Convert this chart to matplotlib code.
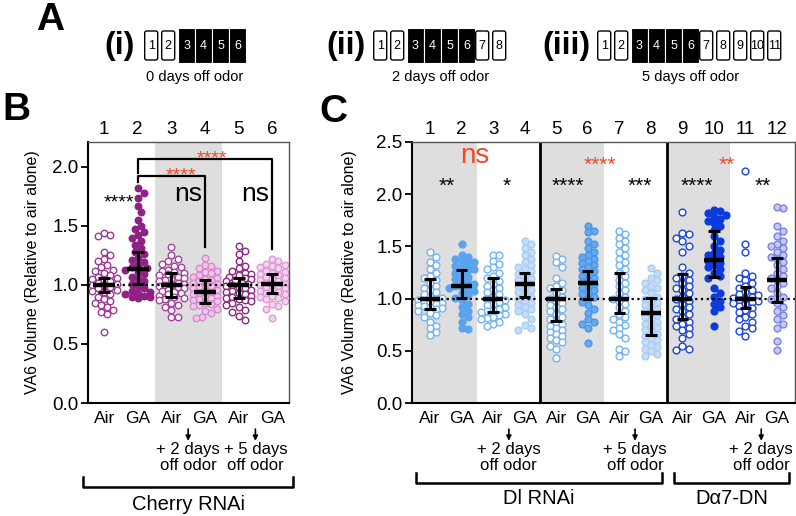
import matplotlib.pyplot as plt
import numpy as np
from matplotlib.patches import Rectangle, FancyBboxPatch
from matplotlib.transforms import blended_transform_factory

plt.rcParams['font.family'] = ['Liberation Sans', 'DejaVu Sans']

# ---- panel A schematic ----
scheme_labels = ["(i)", "(ii)", "(iii)"]
scheme_days = [6, 8, 11]
odor_days = [3, 4, 5, 6]
scheme_captions = ["0 days off odor", "2 days off odor", "5 days off odor"]

# ---- panel B (Cherry RNAi) ----
B_labels = ["Air", "GA", "Air", "GA", "Air", "GA"]
B1 = [1.44, 1.42, 1.41, 1.28, 1.25, 1.22, 1.20, 1.17, 1.15, 1.13, 1.12, 1.10, 1.08, 1.07, 1.06, 1.05, 1.04, 1.03, 1.02,
      1.01, 1.00, 0.99, 0.98, 0.97, 0.96, 0.95, 0.94, 0.92, 0.90, 0.88, 0.86, 0.85, 0.83, 0.81, 0.79, 0.77, 0.75, 0.60]
B2 = [1.82, 1.78, 1.74, 1.67, 1.62, 1.55, 1.50, 1.47, 1.45, 1.42, 1.40, 1.37, 1.34, 1.31, 1.28, 1.26, 1.23, 1.21, 1.19,
      1.17, 1.15, 1.14, 1.13, 1.11, 1.09, 1.07, 1.05, 1.03, 1.01, 0.99, 0.97, 0.95, 0.94, 0.93, 0.92, 0.91, 0.90, 0.90, 0.89]
B3 = [1.32, 1.25, 1.22, 1.20, 1.18, 1.16, 1.15, 1.13, 1.12, 1.11, 1.10, 1.09, 1.08, 1.07, 1.06, 1.05, 1.04, 1.03, 1.02,
      1.01, 1.00, 1.00, 0.99, 0.98, 0.97, 0.96, 0.95, 0.94, 0.93, 0.92, 0.91, 0.90, 0.89, 0.88, 0.87, 0.85, 0.83, 0.81,
      0.79, 0.73, 0.73]
B4 = [1.23, 1.17, 1.16, 1.14, 1.12, 1.11, 1.10, 1.08, 1.07, 1.06, 1.05, 1.04, 1.03, 1.02, 1.01, 1.00, 0.99, 0.98, 0.97,
      0.96, 0.95, 0.94, 0.93, 0.92, 0.91, 0.90, 0.89, 0.88, 0.87, 0.86, 0.85, 0.84, 0.83, 0.82, 0.80, 0.78, 0.76, 0.73, 0.72]
B5 = [1.33, 1.29, 1.26, 1.20, 1.16, 1.14, 1.12, 1.10, 1.09, 1.08, 1.07, 1.06, 1.05, 1.04, 1.03, 1.02, 1.01, 1.00, 0.99,
      0.98, 0.97, 0.96, 0.95, 0.94, 0.93, 0.92, 0.91, 0.90, 0.89, 0.88, 0.87, 0.86, 0.85, 0.83, 0.81, 0.79, 0.77, 0.74, 0.70]
B6 = [1.22, 1.20, 1.18, 1.17, 1.16, 1.15, 1.14, 1.12, 1.11, 1.10, 1.09, 1.08, 1.07, 1.06, 1.05, 1.04, 1.03, 1.02, 1.01,
      1.00, 1.00, 0.99, 0.98, 0.97, 0.96, 0.95, 0.94, 0.93, 0.92, 0.91, 0.90, 0.89, 0.88, 0.86, 0.84, 0.82, 0.80, 0.72]
B_groups = [B1, B2, B3, B4, B5, B6]
B_mid = [1.00, 1.135, 1.00, 0.94, 1.00, 1.01]
B_lo = [0.94, 1.01, 0.90, 0.85, 0.89, 0.935]
B_hi = [1.06, 1.28, 1.10, 1.04, 1.06, 1.09]
B_face = ["white", "#8e2183", "white", "#f2c6ea", "white", "#f6d4f0"]
B_edge = ["#9c3a93", "#8e2183", "#a6449e", "#d48ccb", "#8a2a80", "#e09ad6"]

# ---- panel C (Dl RNAi / Da7-DN) ----
C_labels = ["Air", "GA"] * 6
C1 = [1.45, 1.40, 1.35, 1.32, 1.28, 1.25, 1.22, 1.20, 1.18, 1.15, 1.12, 1.10, 1.08, 1.06, 1.04, 1.02, 1.01, 1.00, 0.99,
      0.98, 0.97, 0.96, 0.95, 0.94, 0.93, 0.92, 0.91, 0.90, 0.88, 0.86, 0.84, 0.82, 0.78, 0.74, 0.72, 0.68, 0.65]
C2 = [1.52, 1.42, 1.40, 1.38, 1.36, 1.35, 1.33, 1.31, 1.30, 1.28, 1.27, 1.25, 1.23, 1.21, 1.19, 1.17, 1.15, 1.14, 1.12,
      1.11, 1.10, 1.09, 1.07, 1.05, 1.03, 1.01, 0.99, 0.95, 0.92, 0.88, 0.85, 0.82, 0.78, 0.72, 0.71]
C3 = [1.42, 1.42, 1.36, 1.33, 1.30, 1.28, 1.25, 1.22, 1.20, 1.17, 1.14, 1.12, 1.10, 1.08, 1.06, 1.04, 1.02, 1.00, 0.99,
      0.97, 0.95, 0.94, 0.92, 0.90, 0.89, 0.88, 0.87, 0.85, 0.84, 0.82, 0.81, 0.80, 0.78, 0.76, 0.74]
C4 = [1.55, 1.52, 1.48, 1.45, 1.42, 1.38, 1.35, 1.32, 1.30, 1.28, 1.26, 1.24, 1.22, 1.20, 1.18, 1.16, 1.14, 1.12, 1.10,
      1.08, 1.06, 1.04, 1.02, 1.00, 0.98, 0.96, 0.94, 0.92, 0.90, 0.88, 0.85, 0.80, 0.75, 0.72, 0.70]
C5 = [1.41, 1.38, 1.35, 1.30, 1.20, 1.15, 1.12, 1.10, 1.08, 1.05, 1.02, 1.00, 0.98, 0.96, 0.94, 0.92, 0.90, 0.88, 0.85,
      0.82, 0.80, 0.78, 0.76, 0.74, 0.72, 0.70, 0.68, 0.66, 0.64, 0.62, 0.60, 0.58, 0.55, 0.52, 0.43]
C6 = [1.70, 1.65, 1.64, 1.55, 1.52, 1.48, 1.45, 1.42, 1.40, 1.38, 1.36, 1.34, 1.32, 1.30, 1.28, 1.26, 1.24, 1.22, 1.20,
      1.18, 1.16, 1.14, 1.12, 1.10, 1.08, 1.06, 1.04, 1.02, 1.00, 0.97, 0.94, 0.90, 0.86, 0.80, 0.78, 0.76, 0.72, 0.57]
C7 = [1.65, 1.62, 1.58, 1.55, 1.52, 1.48, 1.45, 1.42, 1.38, 1.35, 1.32, 1.28, 1.25, 1.22, 1.18, 1.15, 1.12, 1.08, 1.05,
      1.02, 1.00, 0.98, 0.95, 0.92, 0.88, 0.85, 0.82, 0.80, 0.78, 0.75, 0.72, 0.70, 0.66, 0.62, 0.52, 0.50, 0.45]
C8 = [1.29, 1.25, 1.20, 1.18, 1.15, 1.12, 1.10, 1.08, 1.05, 1.02, 1.00, 0.98, 0.96, 0.94, 0.92, 0.90, 0.88, 0.86, 0.84,
      0.82, 0.80, 0.78, 0.76, 0.74, 0.72, 0.70, 0.68, 0.66, 0.64, 0.62, 0.60, 0.58, 0.56, 0.54, 0.52, 0.50, 0.47, 0.45]
C9 = [1.83, 1.63, 1.62, 1.58, 1.55, 1.50, 1.45, 1.30, 1.25, 1.22, 1.20, 1.18, 1.15, 1.12, 1.10, 1.08, 1.05, 1.02, 1.00,
      0.98, 0.95, 0.92, 0.90, 0.88, 0.85, 0.82, 0.80, 0.78, 0.76, 0.74, 0.72, 0.70, 0.66, 0.62, 0.55, 0.52, 0.51]
C10 = [1.85, 1.84, 1.82, 1.80, 1.78, 1.76, 1.74, 1.72, 1.70, 1.66, 1.60, 1.55, 1.50, 1.47, 1.44, 1.42, 1.40, 1.38, 1.36,
       1.34, 1.32, 1.30, 1.28, 1.25, 1.22, 1.20, 1.10, 1.05, 1.02, 0.98, 0.95, 0.92, 0.88, 0.74]
C11 = [2.22, 1.52, 1.45, 1.25, 1.22, 1.20, 1.18, 1.15, 1.12, 1.10, 1.08, 1.06, 1.04, 1.03, 1.02, 1.01, 1.00, 0.99, 0.98,
       0.97, 0.96, 0.95, 0.93, 0.91, 0.89, 0.87, 0.85, 0.82, 0.80, 0.78, 0.74, 0.72, 0.69, 0.64]
C12 = [1.88, 1.87, 1.70, 1.65, 1.60, 1.55, 1.52, 1.50, 1.48, 1.45, 1.42, 1.40, 1.38, 1.35, 1.32, 1.28, 1.25, 1.22, 1.20,
       1.18, 1.15, 1.12, 1.10, 1.05, 1.02, 1.00, 0.96, 0.92, 0.88, 0.84, 0.80, 0.76, 0.72, 0.59, 0.51]
C_groups = [C1, C2, C3, C4, C5, C6, C7, C8, C9, C10, C11, C12]
C_mid = [1.00, 1.12, 1.00, 1.14, 1.00, 1.15, 1.00, 0.86, 1.00, 1.37, 1.00, 1.18]
C_lo = [0.90, 1.01, 0.87, 1.02, 0.79, 1.00, 0.86, 0.65, 0.80, 1.21, 0.91, 0.97]
C_hi = [1.19, 1.27, 1.20, 1.25, 1.09, 1.26, 1.25, 1.01, 1.24, 1.65, 1.11, 1.39]
lb, mb, db = "#74b4f2", "#5ba3ee", "#1d45d6"
C_face = ["white", mb, "white", "#c5ddf8", "white", "#64aaf0", "white", "#c5ddf8", "white", "#0b3bdc", "white", "#c5c9f4"]
C_edge = [lb, mb, lb, "#a9cdf3", lb, "#4d95e6", lb, "#a9cdf3", db, "#0b3bdc", db, "#7a82e2"]

RED = "#f04a24"
GRAY = "#dedede"

W, H = 796, 516
fig = plt.figure(figsize=(W / 100, H / 100), dpi=100)


def frac(l, t, r, b):
    return [l / W, 1 - b / H, (r - l) / W, (b - t) / H]


def swarm(ax, x, vals, d_px=6.2, max_px=15):
    # simple beeswarm layout in pixel space
    vals = np.asarray(vals, float)
    pts = ax.transData.transform(np.column_stack([np.full(len(vals), x), vals]))
    ys = pts[:, 1]
    xc = pts[0, 0]
    steps = [0.0] + [s * k * d_px * 0.5 for k in range(1, 30) for s in (1, -1)]
    steps = [c for c in steps if abs(c) <= max_px]
    placed = []
    xo = np.zeros(len(vals))
    for i in np.argsort(-vals):
        chosen = None
        for c in steps:
            if all((c - px) ** 2 + (ys[i] - py) ** 2 >= d_px ** 2 for px, py in placed):
                chosen = c
                break
        if chosen is None:
            chosen = max(steps, key=lambda c: min((c - px) ** 2 + (ys[i] - py) ** 2 for px, py in placed))
        placed.append((chosen, ys[i]))
        xo[i] = chosen
    inv = ax.transData.inverted()
    return inv.transform(np.column_stack([xc + xo, ys]))[:, 0]


def dot_panel(ax, groups, mid, lo, hi, face, edge, labels, xlim, ylim, yticks, spans, ms):
    n = len(groups)
    ax.set_xlim(*xlim)
    ax.set_ylim(*ylim)
    for a, b in spans:
        ax.axvspan(a, b, color=GRAY, lw=0, zorder=0)
    for i, g in enumerate(groups):
        xs = swarm(ax, i, g)
        ax.scatter(xs, g, s=ms, facecolor=face[i], edgecolor=edge[i], linewidths=1.0, zorder=2)
    ax.axhline(1.0, color="k", ls=(0, (1, 1.6)), lw=1.6, zorder=3)
    x = np.arange(n)
    ax.vlines(x, lo, hi, color="k", lw=2.2, zorder=4)
    ax.hlines(lo, x - 0.18, x + 0.18, color="k", lw=2.2, zorder=4)
    ax.hlines(hi, x - 0.18, x + 0.18, color="k", lw=2.2, zorder=4)
    ax.hlines(mid, x - 0.32, x + 0.32, color="k", lw=3.2, zorder=4)
    ax.set_yticks(yticks)
    ax.set_yticklabels([f"{t:.1f}" for t in yticks])
    ax.set_xticks(x)
    ax.set_xticklabels(labels)
    ax.tick_params(axis="x", length=0, labelsize=12.5, pad=6)
    ax.tick_params(axis="y", length=5, width=1.3, labelsize=13.5, pad=2)
    for s in ("left", "bottom"):
        ax.spines[s].set_linewidth(1.5)
    for s in ("top", "right"):
        ax.spines[s].set_linewidth(1.0)
        ax.spines[s].set_color("#555555")
    sec = ax.secondary_xaxis("top")
    sec.set_xticks(x)
    sec.set_xticklabels([str(i + 1) for i in x])
    sec.tick_params(length=0, labelsize=13.5, pad=3)
    sec.spines["top"].set_visible(False)
    ax.set_ylabel("VA6 Volume (Relative to air alone)", fontsize=11.5)


def stars(ax, txt, x, y, color="k", fs=14):
    ax.annotate(txt, xy=(x, y), xytext=(0, -0.56 * fs), textcoords="offset points",
                ha="center", va="baseline", fontsize=fs, color=color, zorder=5)


def notes(ax, xs_, texts):
    tr = blended_transform_factory(ax.transData, ax.transAxes)
    for xp, t in zip(xs_, texts):
        ax.annotate("", xy=(xp, -0.145), xytext=(xp, -0.10), xycoords=tr, textcoords=tr,
                    arrowprops=dict(arrowstyle="-|>", color="k", lw=1.2, mutation_scale=7,
                                    shrinkA=0, shrinkB=0), annotation_clip=False)
        ax.text(xp, -0.21, t, transform=tr, ha="center", va="center", fontsize=12, linespacing=1.1)


def group_bracket(ax, x0, x1, y, name, ty):
    tr = blended_transform_factory(ax.transData, ax.transAxes)
    ax.plot([x0, x0, x1, x1], [y + 0.04, y, y, y + 0.04], color="k", lw=1.8, transform=tr, clip_on=False)
    ax.text((x0 + x1) / 2, ty, name, transform=tr, ha="center", va="center", fontsize=14.5)


# ---- panel A ----
axA = fig.add_axes([0, 1 - 95 / H, 1, 95 / H])
axA.set_xlim(0, W)
axA.set_ylim(95, 0)
axA.axis("off")
pitch = 17
label_x = [120, 346, 566]
box_x0 = [144, 373, 597]
for lab, nd, lx, x0, cap in zip(scheme_labels, scheme_days, label_x, box_x0, scheme_captions):
    axA.text(lx, 46, lab, ha="center", va="center", fontsize=23, fontweight="bold")
    for d in range(1, nd + 1):
        left = x0 + (d - 1) * pitch
        if d in odor_days:
            axA.add_patch(Rectangle((left, 28), pitch, 35, facecolor="k", edgecolor="white", lw=0.8))
            axA.text(left + pitch / 2, 46, str(d), ha="center", va="center", fontsize=9, color="white")
        else:
            axA.add_patch(FancyBboxPatch((left + 0.7, 31), pitch - 4, 29,
                                         boxstyle="round,pad=0,rounding_size=2",
                                         facecolor="white", edgecolor="k", lw=1.0))
            axA.text(left + 0.7 + (pitch - 4) / 2, 46, str(d), ha="center", va="center", fontsize=9)
    axA.text(x0 + nd * pitch / 2, 77, cap, ha="center", va="center", fontsize=10.5)

fig.text(50 / W, 1 - 20 / H, "A", ha="center", va="center", fontsize=28, fontweight="bold")
fig.text(16 / W, 1 - 110 / H, "B", ha="center", va="center", fontsize=28, fontweight="bold")
fig.text(333 / W, 1 - 112 / H, "C", ha="center", va="center", fontsize=28, fontweight="bold")

# ---- panel B ----
axB = fig.add_axes(frac(88, 142, 289, 403))
dot_panel(axB, B_groups, B_mid, B_lo, B_hi, B_face, B_edge, B_labels,
          (-0.48, 5.5), (0, 2.21), [0, 0.5, 1.0, 1.5, 2.0], [(1.5, 3.5)], 22)
axB.yaxis.set_label_coords(-0.24, 0.5)
axB.plot([1, 1, 5, 5], [1.95, 2.07, 2.07, 1.30], color="k", lw=1.6, zorder=5)
axB.plot([1, 1, 3, 3], [1.87, 1.92, 1.92, 1.32], color="k", lw=1.6, zorder=5)
stars(axB, "****", 0.45, 1.75)
stars(axB, "****", 3.2, 2.12, RED)
stars(axB, "****", 2.27, 1.98, RED)
axB.text(2.5, 1.71, "ns", ha="center", va="baseline", fontsize=19, zorder=5)
axB.text(4.49, 1.71, "ns", ha="center", va="baseline", fontsize=19, zorder=5)
notes(axB, [2.5, 4.5], ["+ 2 days\noff odor", "+ 5 days\noff odor"])
group_bracket(axB, -0.62, 5.62, -0.322, "Cherry RNAi", -0.39)

# ---- panel C ----
axC = fig.add_axes(frac(412, 142, 795, 403))
dot_panel(axC, C_groups, C_mid, C_lo, C_hi, C_face, C_edge, C_labels,
          (-0.57, 11.57), (0, 2.5), [0, 0.5, 1.0, 1.5, 2.0, 2.5],
          [(-0.57, 1.5), (3.5, 5.5), (7.5, 9.5)], 24)
axC.yaxis.set_label_coords(-0.144, 0.5)
axC.axvline(3.5, color="k", lw=2, zorder=1)
axC.axvline(7.5, color="k", lw=2, zorder=1)
axC.text(1.42, 2.30, "ns", ha="center", va="baseline", fontsize=20, color=RED, zorder=5)
for txt, xp in zip(["**", "*", "****", "***", "****", "**"], [0.54, 2.44, 4.37, 6.64, 8.47, 10.54]):
    stars(axC, txt, xp, 2.13, fs=15)
stars(axC, "****", 5.4, 2.34, RED, fs=15)
stars(axC, "**", 9.4, 2.34, RED, fs=15)
notes(axC, [2.5, 6.5, 10.5], ["+ 2 days\noff odor", "+ 5 days\noff odor", "+ 2 days\noff odor"])
group_bracket(axC, -0.44, 7.34, -0.307, "Dl RNAi", -0.364)
group_bracket(axC, 7.72, 11.39, -0.307, "D\u03b17-DN", -0.364)

fig.savefig("out.png", dpi=100)
